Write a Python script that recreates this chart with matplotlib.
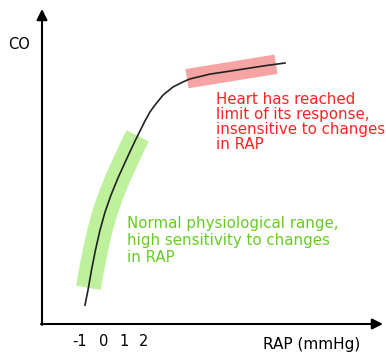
import numpy as np
import matplotlib
matplotlib.use("Agg")
import matplotlib.pyplot as plt

# Frank-Starling style curve: cardiac output vs right atrial pressure
rap = [-0.95, -0.8, -0.625, -0.425, -0.2, 0.05, 0.35, 0.7, 1.15, 1.55, 1.85, 2.05, 2.3, 2.55,
       2.95, 3.45, 3.95, 4.3, 5.3, 6.3, 7.95, 9.05]
co = [0.63, 1.13, 1.8, 2.47, 3.13, 3.73, 4.3, 4.87, 5.53, 6.1, 6.5, 6.77, 7.07, 7.3,
      7.63, 7.9, 8.07, 8.17, 8.33, 8.43, 8.6, 8.7]

tick_values = [-1, 0, 1, 2]
green_span = [-0.78, 1.68]  # normal physiological range
red_span = [4.15, 8.6]      # plateau

green_text = "Normal physiological range,\nhigh sensitivity to changes\nin RAP"
red_text = "Heart has reached\nlimit of its response,\ninsensitive to changes\nin RAP"

fig = plt.figure(figsize=(3.86, 3.54), dpi=100)
ax = fig.add_axes([0, 0, 1, 1])
ax.set_xlim(-5.2, 14.1)
ax.set_ylim(-1.0, 10.8)
ax.axis("off")

rap_arr = np.array(rap)
co_arr = np.array(co)

# highlighted bands following the curve
gx = [green_span[0]] + [r for r in rap if green_span[0] < r < green_span[1]] + [green_span[1]]
gy = np.interp(gx, rap_arr, co_arr)
ax.plot(gx, gy, color="#bff09c", lw=18, solid_capstyle="butt", zorder=1)

ry = np.interp(red_span, rap_arr, co_arr)
ax.plot(red_span, ry + [0.05, 0.0], color="#f5a3a3", lw=14, solid_capstyle="butt", zorder=1)

ax.plot(rap, co, color="#222222", lw=1.2, zorder=2)

# axes with arrow heads
x0, y0 = -3.1, 0.0
ax.annotate("", xy=(13.95, y0), xytext=(x0 - 0.05, y0),
            arrowprops=dict(arrowstyle="-|>", color="black", lw=1.5, mutation_scale=16, shrinkA=0, shrinkB=0))
ax.annotate("", xy=(x0, 10.5), xytext=(x0, y0 - 0.03),
            arrowprops=dict(arrowstyle="-|>", color="black", lw=1.5, mutation_scale=16, shrinkA=0, shrinkB=0))

for t in tick_values:
    xpos = t - 0.2 if t < 0 else t
    ax.text(xpos, -0.6, str(t), ha="center", va="center", fontsize=10.5)
ax.text(10.38, -0.7, "RAP (mmHg)", ha="center", va="center", fontsize=11)
ax.text(-4.25, 9.33, "CO", ha="center", va="center", fontsize=10.5)

ax.text(1.15, 3.6, green_text, ha="left", va="top", fontsize=10.8, color="#66cc22", linespacing=1.15)
ax.text(5.6, 7.72, red_text, ha="left", va="top", fontsize=10.8, color="#ff2222", linespacing=1.0)

fig.savefig("out.png", dpi=100)
